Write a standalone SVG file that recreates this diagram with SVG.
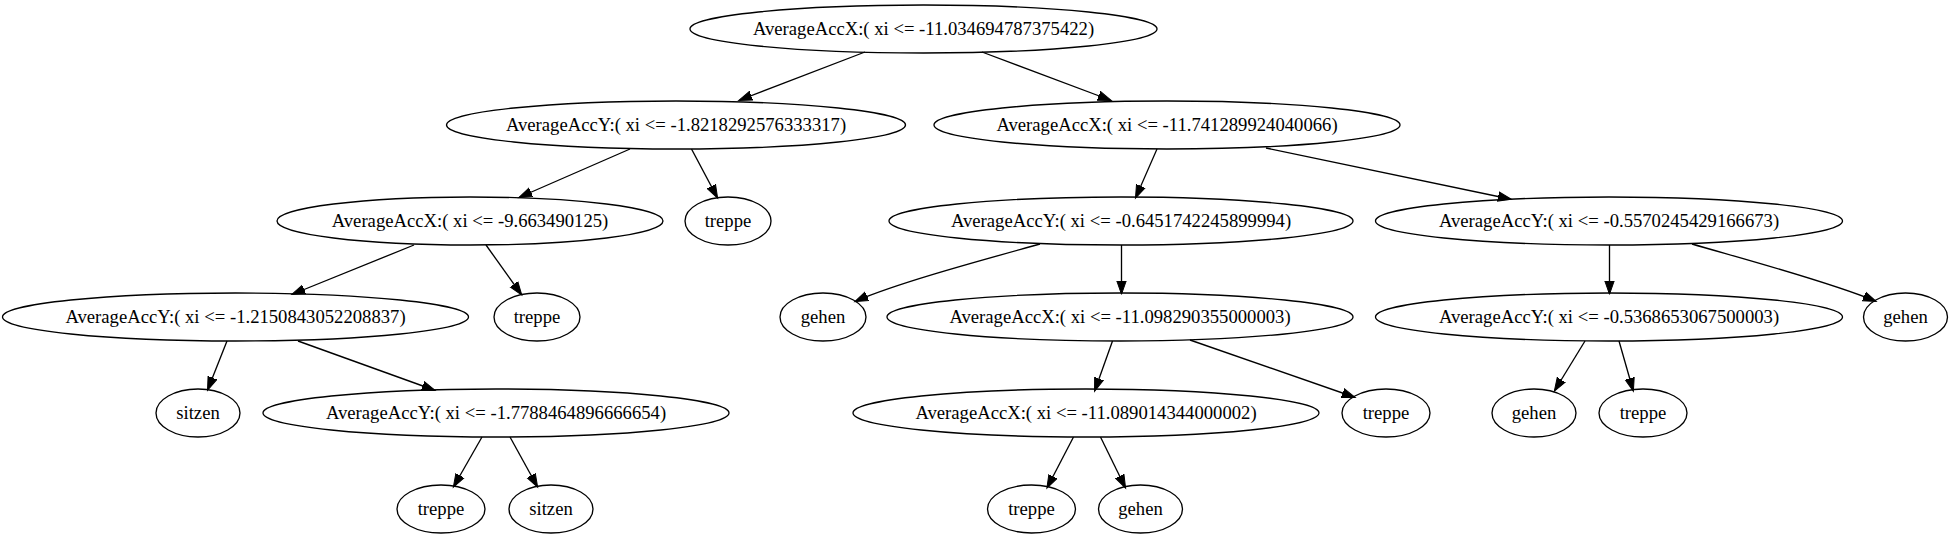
<svg xmlns="http://www.w3.org/2000/svg" width="1956" height="539" viewBox="0 0 1956 539">
<style>
.n ellipse{fill:none;stroke:#000;stroke-width:1.33}
.n text{font-family:"Liberation Serif","Times New Roman",serif;font-size:18.67px;text-anchor:middle;fill:#000}
#edges path{fill:none;stroke:#000;stroke-width:1.33;marker-end:url(#ah)}
</style>
<defs>
<marker id="ah" markerUnits="userSpaceOnUse" markerWidth="16" markerHeight="12" viewBox="0 -6 16 12" refX="12" refY="0" orient="auto">
<path d="M0,-4.67 L13.33,0 L0,4.67 Z" fill="#000" stroke="#000" stroke-width="1"/>
</marker>
</defs>
<rect width="1956" height="539" fill="#fff"/>
<g id="edges">
<path d="M865,52 L740,100"/>
<path d="M982,52 L1110,100"/>
<path d="M630,149 L520,197"/>
<path d="M691.5,149 L717,197"/>
<path d="M414,245 L293,294"/>
<path d="M486,245 L521,294"/>
<path d="M227,341 L208,389"/>
<path d="M298,341 L434,390"/>
<path d="M482,437 L454,486"/>
<path d="M510,437 L537,486"/>
<path d="M1157,149 L1136,197"/>
<path d="M1266,148 L1510,199"/>
<path d="M1040,244 C990,258 900,282 856,301"/>
<path d="M1121.5,245 L1121.5,293"/>
<path d="M1609.5,245 L1609.5,293"/>
<path d="M1692,244 C1740,258 1830,282 1875,301"/>
<path d="M1112.5,341 L1095,390"/>
<path d="M1190,340 L1354,397"/>
<path d="M1073.5,437 L1047.5,487"/>
<path d="M1100.5,437 L1125,487"/>
<path d="M1585,341 L1555,390"/>
<path d="M1619,341 L1633,390"/>
</g>
<g id="n0" class="n"><ellipse cx="923.5" cy="29" rx="233.5" ry="24"/><text x="923.5" y="35">AverageAccX:( xi &lt;= -11.034694787375422)</text></g>
<g id="n1" class="n"><ellipse cx="676" cy="125" rx="229.5" ry="24"/><text x="676" y="131">AverageAccY:( xi &lt;= -1.8218292576333317)</text></g>
<g id="n2" class="n"><ellipse cx="1167" cy="125" rx="233" ry="24"/><text x="1167" y="131">AverageAccX:( xi &lt;= -11.741289924040066)</text></g>
<g id="n3" class="n"><ellipse cx="470" cy="221" rx="193" ry="24"/><text x="470" y="227">AverageAccX:( xi &lt;= -9.663490125)</text></g>
<g id="n4" class="n"><ellipse cx="728" cy="221" rx="43" ry="24"/><text x="728" y="227">treppe</text></g>
<g id="n5" class="n"><ellipse cx="1121" cy="221" rx="232" ry="24"/><text x="1121" y="227">AverageAccY:( xi &lt;= -0.6451742245899994)</text></g>
<g id="n6" class="n"><ellipse cx="1609" cy="221" rx="233.5" ry="24"/><text x="1609" y="227">AverageAccY:( xi &lt;= -0.5570245429166673)</text></g>
<g id="n7" class="n"><ellipse cx="235.5" cy="317" rx="233" ry="24"/><text x="235.5" y="323">AverageAccY:( xi &lt;= -1.2150843052208837)</text></g>
<g id="n8" class="n"><ellipse cx="537" cy="317" rx="43" ry="24"/><text x="537" y="323">treppe</text></g>
<g id="n9" class="n"><ellipse cx="823" cy="317" rx="43" ry="24"/><text x="823" y="323">gehen</text></g>
<g id="n10" class="n"><ellipse cx="1120" cy="317" rx="233" ry="24"/><text x="1120" y="323">AverageAccX:( xi &lt;= -11.098290355000003)</text></g>
<g id="n11" class="n"><ellipse cx="1609" cy="317" rx="233.5" ry="24"/><text x="1609" y="323">AverageAccY:( xi &lt;= -0.5368653067500003)</text></g>
<g id="n12" class="n"><ellipse cx="1905.5" cy="317" rx="42" ry="24"/><text x="1905.5" y="323">gehen</text></g>
<g id="n13" class="n"><ellipse cx="198" cy="413" rx="42" ry="24"/><text x="198" y="419">sitzen</text></g>
<g id="n14" class="n"><ellipse cx="496" cy="413" rx="233" ry="24"/><text x="496" y="419">AverageAccY:( xi &lt;= -1.7788464896666654)</text></g>
<g id="n15" class="n"><ellipse cx="1086" cy="413" rx="233" ry="24"/><text x="1086" y="419">AverageAccX:( xi &lt;= -11.089014344000002)</text></g>
<g id="n16" class="n"><ellipse cx="1386" cy="413" rx="44" ry="24"/><text x="1386" y="419">treppe</text></g>
<g id="n17" class="n"><ellipse cx="1534" cy="413" rx="42" ry="24"/><text x="1534" y="419">gehen</text></g>
<g id="n18" class="n"><ellipse cx="1643" cy="413" rx="44" ry="24"/><text x="1643" y="419">treppe</text></g>
<g id="n19" class="n"><ellipse cx="441" cy="509" rx="44" ry="24"/><text x="441" y="515">treppe</text></g>
<g id="n20" class="n"><ellipse cx="551" cy="509" rx="42" ry="24"/><text x="551" y="515">sitzen</text></g>
<g id="n21" class="n"><ellipse cx="1031.5" cy="509" rx="44" ry="24"/><text x="1031.5" y="515">treppe</text></g>
<g id="n22" class="n"><ellipse cx="1140.5" cy="509" rx="42" ry="24"/><text x="1140.5" y="515">gehen</text></g>
</svg>
